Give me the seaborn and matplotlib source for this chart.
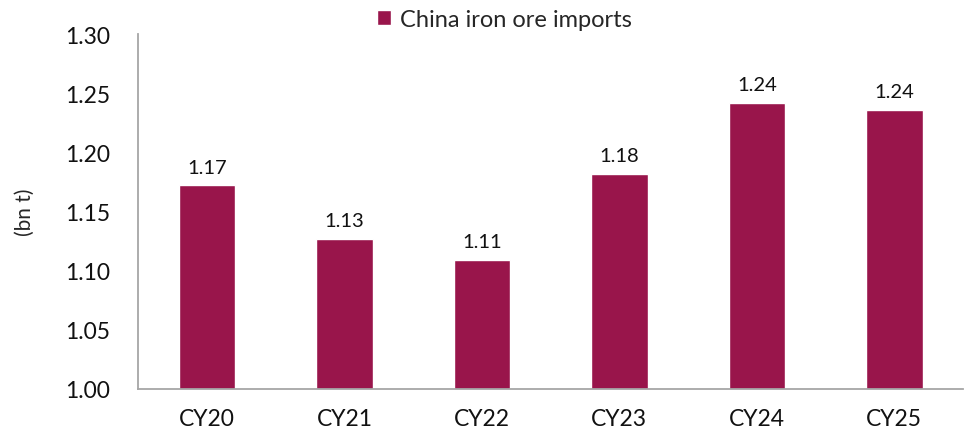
import pandas as pd
import matplotlib
matplotlib.use("Agg")
import matplotlib.pyplot as plt
import seaborn as sns

years = ["CY20", "CY21", "CY22", "CY23", "CY24", "CY25"]
imports_bnt = [1.172, 1.127, 1.109, 1.182, 1.242, 1.236]
value_labels = ["1.17", "1.13", "1.11", "1.18", "1.24", "1.24"]

df = pd.DataFrame({"year": years, "imports": imports_bnt,
                   "series": "China iron ore imports"})

sns.set_style("white")
plt.rcParams["font.family"] = ["Lato", "DejaVu Sans"]

bar_color = "#99154B"

fig = plt.figure(figsize=(9.66, 4.39), dpi=100)
ax = fig.add_axes([0.143, 0.112, 0.854, 0.808])

sns.barplot(data=df, x="year", y="imports", hue="series",
            palette=[bar_color], width=0.41, ax=ax, saturation=1)

ax.set_ylim(1.00, 1.30)
ax.set_xlim(-0.5, 5.5)
ax.set_yticks([1.00, 1.05, 1.10, 1.15, 1.20, 1.25, 1.30])
ax.set_yticklabels([f"{v:.2f}" for v in ax.get_yticks()])
ax.tick_params(axis="both", length=0, labelsize=16.5, colors="#111111")
ax.tick_params(axis="x", pad=14)
ax.tick_params(axis="y", pad=20)

ax.set_xlabel("")
ax.set_ylabel("(bn t)", fontsize=15, labelpad=22)

for s in ["top", "right"]:
    ax.spines[s].set_visible(False)
for s in ["left", "bottom"]:
    ax.spines[s].set_color("#a6a6a6")
    ax.spines[s].set_linewidth(1.3)

for i, (v, lab) in enumerate(zip(imports_bnt, value_labels)):
    ax.text(i, v + 0.008, lab, ha="center", va="bottom", fontsize=14.5,
            color="#111111")

leg = ax.legend(loc="upper center", bbox_to_anchor=(0.444, 1.13),
                frameon=False, fontsize=17, handlelength=0.6,
                handleheight=0.6, handletextpad=0.35)

fig.savefig("out.png", dpi=100)
